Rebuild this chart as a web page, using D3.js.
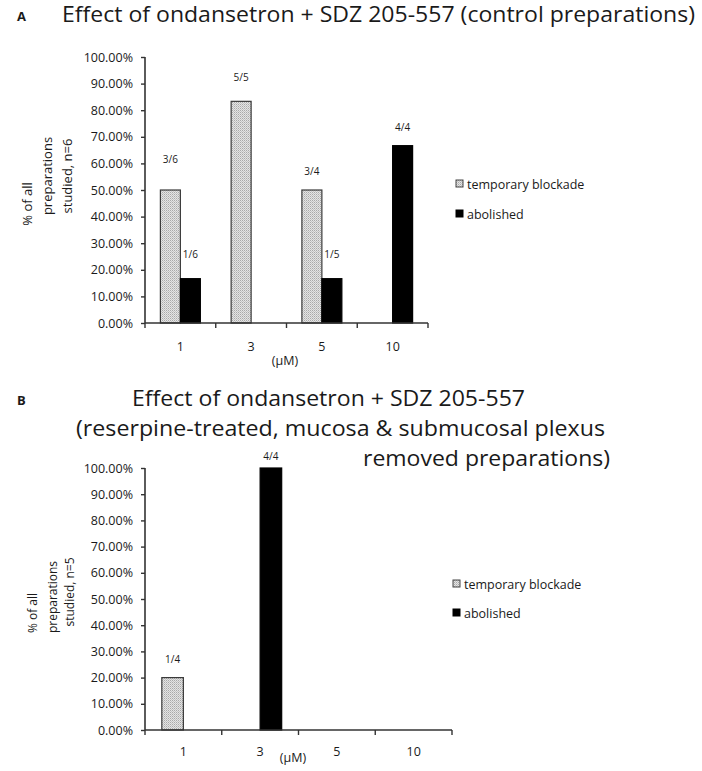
<!DOCTYPE html>
<html><head><meta charset="utf-8">
<script src="https://cdn.jsdelivr.net/npm/d3@7/dist/d3.min.js"></script>
<style>body{margin:0;background:#fff}svg{display:block}text{font-family:"Open Sans",Lato,sans-serif;fill:#1a1a1a}</style>
</head><body><svg id="c" width="702" height="771"></svg>
<script>
// ---- data ----
const categories = ["1", "3", "5", "10"];
const seriesNames = ["temporary blockade", "abolished"];
const yTicks = [0, 10, 20, 30, 40, 50, 60, 70, 80, 90, 100];

const tempA = [50, 83.33, 50, 0];
const abolA = [16.67, 0, 16.67, 66.67];
const labelTextA = ["3/6", "5/5", "3/4", "1/6", "1/5", "4/4"];
const labelCatA = ["1", "3", "5", "1", "5", "10"];
const labelSerA = [0, 0, 0, 1, 1, 1];
const labelAtA = [60, 91, 55.5, 24.5, 24.5, 72];

const tempB = [20, 0, 0, 0];
const abolB = [0, 100, 0, 0];
const labelTextB = ["1/4", "4/4"];
const labelCatB = ["1", "3"];
const labelSerB = [0, 1];
const labelAtB = [25.5, 103];

const svg = d3.select("#c");
const defs = svg.append("defs");
const pat = defs.append("pattern").attr("id", "dots").attr("width", 2).attr("height", 2)
  .attr("patternUnits", "userSpaceOnUse");
pat.append("rect").attr("width", 2).attr("height", 2).attr("fill", "#e4e4e4");
pat.append("rect").attr("width", 1).attr("height", 1).attr("fill", "#a9a9a9");
pat.append("rect").attr("x", 1).attr("y", 1).attr("width", 1).attr("height", 1).attr("fill", "#c4c4c4");

const fills = ["url(#dots)", "#000"];
const axisColor = "#333";
const FONT = "Open Sans";

function panel(cfg) {
  const g = svg.append("g");
  const x0 = d3.scaleBand().domain(categories).range([cfg.left, cfg.right]).paddingInner(0).paddingOuter(0);
  const x1 = d3.scaleBand().domain([0, 1]).range([0, x0.bandwidth()]).paddingInner(0).paddingOuter(cfg.barPad);
  const y = d3.scaleLinear().domain([0, 100]).range([cfg.bottom, cfg.top]);

  // bars
  const series = [cfg.temp, cfg.abol];
  series.forEach((vals, si) => {
    g.selectAll(null).data(categories.map((c, i) => ({c, v: vals[i]})).filter(d => d.v > 0))
      .enter().append("rect")
      .attr("x", d => x0(d.c) + x1(si))
      .attr("width", x1.bandwidth())
      .attr("y", d => y(d.v))
      .attr("height", d => y(0) - y(d.v))
      .attr("fill", fills[si])
      .attr("stroke", si === 0 ? "#3a3a3a" : "#000")
      .attr("stroke-width", 1.2);
  });

  // y axis
  const ya = g.append("g").attr("transform", `translate(${cfg.left},0)`)
    .call(d3.axisLeft(y).tickValues(yTicks).tickSize(4).tickPadding(8)
      .tickFormat(d => d.toFixed(2) + "%"));
  ya.select(".domain").attr("stroke", axisColor).attr("stroke-width", 1.6).attr("d", `M-0,${cfg.top}V${cfg.bottom}`);
  ya.selectAll(".tick line").attr("stroke", axisColor).attr("stroke-width", 1.4);
  ya.selectAll(".tick text").attr("font-size", 12.5).attr("font-family", FONT).attr("fill", "#1a1a1a");

  // x axis
  const xa = g.append("g").attr("transform", `translate(0,${cfg.bottom})`)
    .call(d3.axisBottom(x0).tickSize(0).tickPadding(cfg.xPad));
  xa.select(".domain").attr("stroke", axisColor).attr("stroke-width", 1.6).attr("d", `M${cfg.left},0H${cfg.right}`);
  xa.selectAll(".tick text").attr("font-size", 12.5).attr("font-family", FONT).attr("fill", "#1a1a1a");
  const bounds = categories.map(c => x0(c)).concat([cfg.right]);
  xa.selectAll(".bnd").data(bounds).enter().append("line")
    .attr("x1", d => d).attr("x2", d => d).attr("y1", 0).attr("y2", 5)
    .attr("stroke", axisColor).attr("stroke-width", 1.4);
  g.append("text").attr("x", cfg.unitX).attr("y", cfg.unitY).attr("text-anchor", "middle")
    .attr("font-size", 12.5).text("(µM)");

  // bar labels
  g.selectAll(null).data(cfg.labText.map((t, i) => ({t, c: cfg.labCat[i], s: cfg.labSer[i], a: cfg.labAt[i]})))
    .enter().append("text")
    .attr("x", d => x0(d.c) + x1(d.s) + x1.bandwidth() / 2)
    .attr("y", d => y(d.a))
    .attr("text-anchor", "middle").attr("font-size", 10).text(d => d.t);

  // y title
  cfg.yTitle.forEach(l => {
    g.append("text").attr("transform", `translate(${l.x},${l.y}) rotate(-90)`)
      .attr("text-anchor", "middle").attr("font-size", cfg.yTitleSize).text(l.t);
  });

  // legend
  seriesNames.forEach((n, i) => {
    const ly = cfg.legY[i];
    g.append("rect").attr("x", cfg.legX).attr("y", ly - 9).attr("width", 7).attr("height", 7)
      .attr("fill", fills[i]).attr("stroke", i === 0 ? "#444" : "#000").attr("stroke-width", 1);
    g.append("text").attr("x", cfg.legX + 11).attr("y", ly).attr("font-size", 12.5).text(n);
  });
}

panel({
  left: 145, right: 428, top: 57, bottom: 323, barPad: 0.77, xPad: 19,
  temp: tempA, abol: abolA,
  labText: labelTextA, labCat: labelCatA, labSer: labelSerA, labAt: labelAtA,
  unitX: 285, unitY: 365,
  yTitleSize: 13,
  yTitle: [{t: "% of all", x: 32, y: 204}, {t: "preparations", x: 52, y: 176}, {t: "studied, n=6", x: 72, y: 176}],
  legX: 456, legY: [189, 219]
});

panel({
  left: 145, right: 452, top: 468, bottom: 730, barPad: 0.78, xPad: 17,
  temp: tempB, abol: abolB,
  labText: labelTextB, labCat: labelCatB, labSer: labelSerB, labAt: labelAtB,
  unitX: 293, unitY: 762,
  yTitleSize: 12,
  yTitle: [{t: "% of all", x: 37, y: 613}, {t: "preparations", x: 57, y: 597}, {t: "studied, n=5", x: 74, y: 592}],
  legX: 453, legY: [589, 618]
});

// titles
svg.append("text").attr("x", 17).attr("y", 21).attr("font-size", 13).attr("font-weight", "bold").text("A");
svg.append("text").attr("x", 62).attr("y", 22).attr("font-size", 21).attr("font-family", "Lato")
  .attr("textLength", 633).attr("lengthAdjust", "spacingAndGlyphs")
  .text("Effect of ondansetron + SDZ 205-557 (control preparations)");

svg.append("text").attr("x", 17).attr("y", 405).attr("font-size", 13).attr("font-weight", "bold").text("B");
svg.append("text").attr("x", 132).attr("y", 406).attr("font-size", 22).attr("font-family", "Lato")
  .attr("textLength", 393).attr("lengthAdjust", "spacingAndGlyphs")
  .text("Effect of ondansetron + SDZ 205-557");
svg.append("text").attr("x", 76).attr("y", 436).attr("font-size", 22).attr("font-family", "Lato")
  .attr("textLength", 529).attr("lengthAdjust", "spacingAndGlyphs")
  .text("(reserpine-treated, mucosa & submucosal plexus");
svg.append("text").attr("x", 363).attr("y", 466).attr("font-size", 22).attr("font-family", "Lato")
  .attr("textLength", 247).attr("lengthAdjust", "spacingAndGlyphs")
  .text("removed preparations)");
</script></body></html>
